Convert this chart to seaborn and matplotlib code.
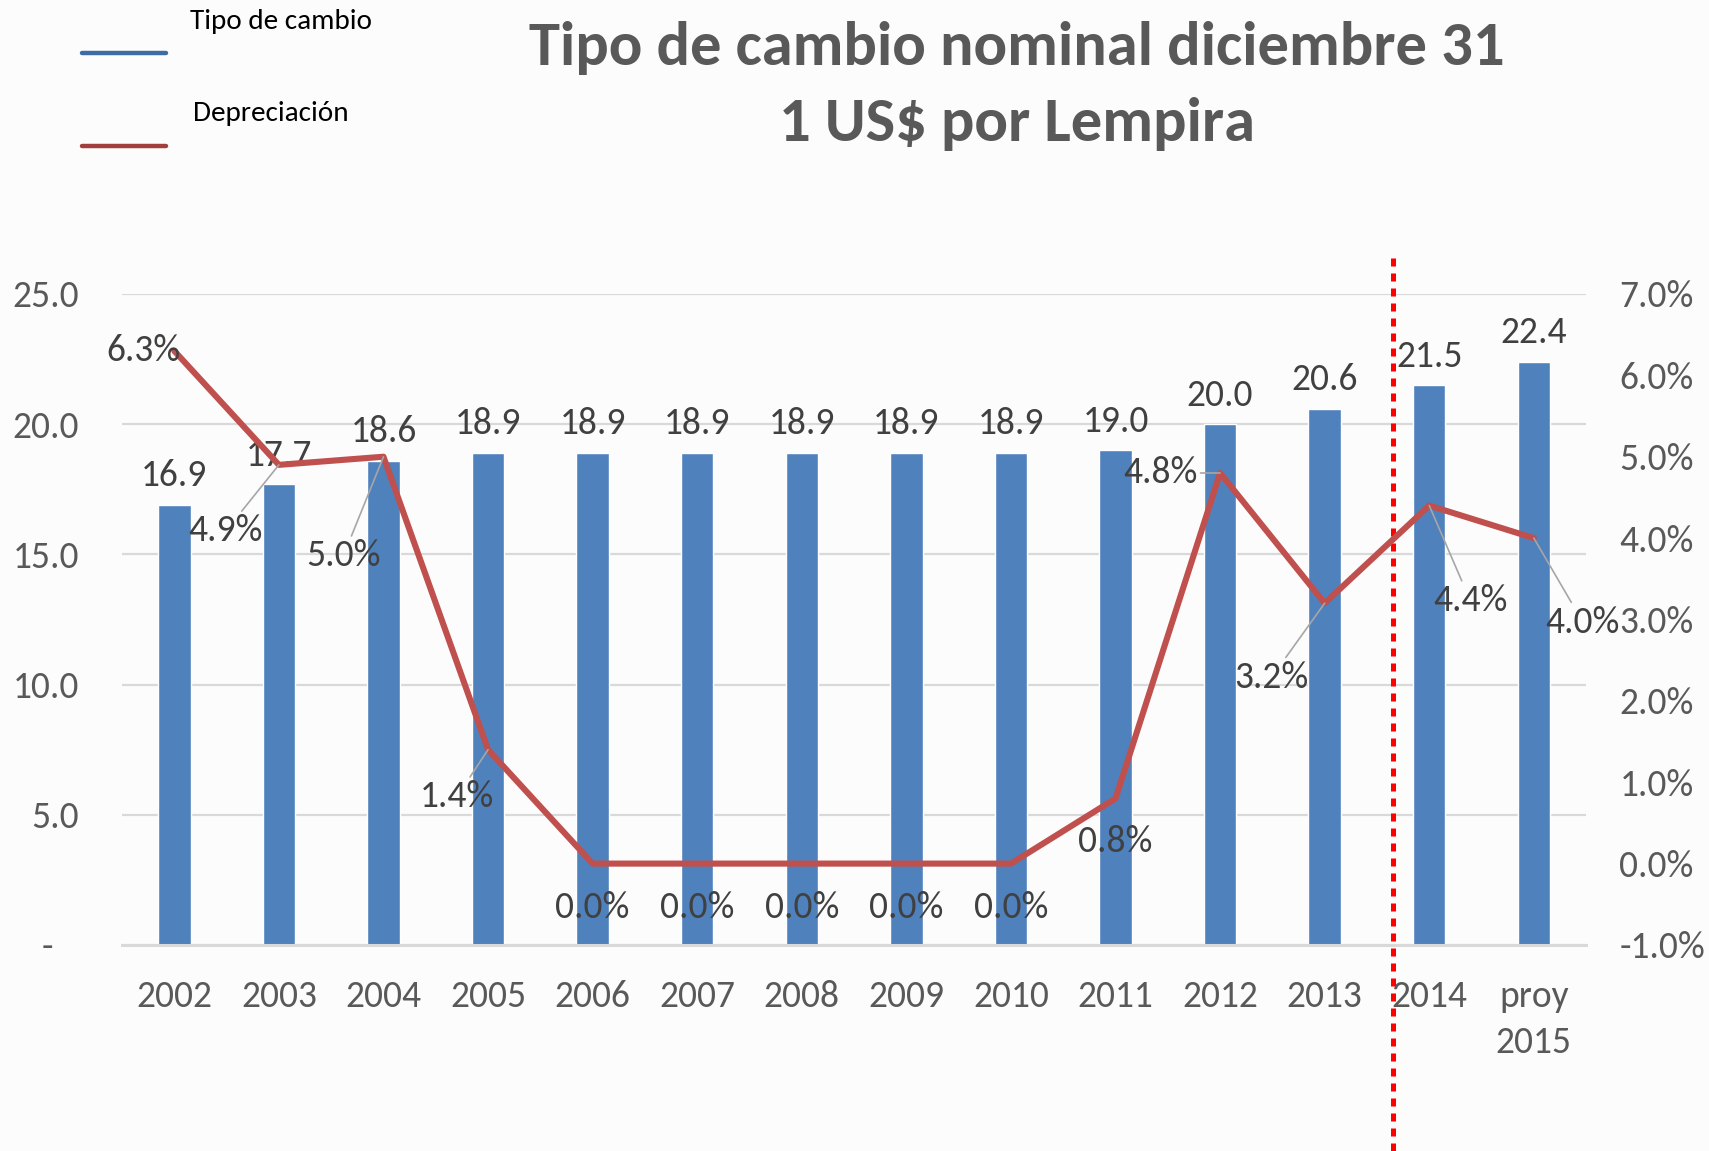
import numpy as np
import pandas as pd
import matplotlib
matplotlib.use("Agg")
import matplotlib.pyplot as plt
from matplotlib import font_manager
from matplotlib.lines import Line2D
import seaborn as sns

# ---- data ----
years = ["2002", "2003", "2004", "2005", "2006", "2007", "2008", "2009",
         "2010", "2011", "2012", "2013", "2014", "proy\n2015"]
tipo_cambio = [16.9, 17.7, 18.6, 18.9, 18.9, 18.9, 18.9, 18.9, 18.9, 19.0, 20.0, 20.6, 21.5, 22.4]
depreciacion = [6.3, 4.9, 5.0, 1.4, 0.0, 0.0, 0.0, 0.0, 0.0, 0.8, 4.8, 3.2, 4.4, 4.0]
left_ticks = [0, 5, 10, 15, 20, 25]
left_ticklabels = ["-   ", "5.0", "10.0", "15.0", "20.0", "25.0"]
right_ticks = [-1, 0, 1, 2, 3, 4, 5, 6, 7]
title_text = "Tipo de cambio nominal diciembre 31\n1 US$ por Lempira"
legend_names = ["Tipo de cambio", "Depreciación"]

# label offsets (pixels) for the depreciation labels, and whether a leader line is drawn
dep_offsets = [(-31, 0), (-53, -66), (-40, -99), (-31, -47), (0, -44), (0, -44), (0, -44),
               (0, -44), (0, -44), (0, -43), (-60, 0), (-53, -74), (41, -95), (49, -84)]
dep_leader = [False, True, True, True, False, False, False, False, False, False, True, True, True, True]

# ---- fonts ----
installed = {f.name for f in font_manager.fontManager.ttflist}
fam = None
for cand in ["Carlito", "Liberation Sans Narrow", "Lato", "DejaVu Sans"]:
    if cand in installed:
        fam = cand
        break
narrow = fam in ("Carlito", "Liberation Sans Narrow")
base = 27 if narrow else 23
title_size = 45 if narrow else 38.5
leg_size = 21 if narrow else 19

sns.set_theme(style="white")
plt.rcParams["font.family"] = [fam, "DejaVu Sans"]

BG = "#FCFCFC"
TXT = "#595959"
LBL = "#404040"

fig = plt.figure(figsize=(17.09, 11.51), dpi=100, facecolor=BG)
ax = fig.add_axes([0.0714, 0.179, 0.8567, 0.5656], facecolor=BG)

df = pd.DataFrame({"year": years, "tc": tipo_cambio, "pos": np.arange(len(years)), "dep": depreciacion})

sns.barplot(data=df, x="year", y="tc", color="#4F81BD", saturation=1, width=0.31, ax=ax, zorder=2)
ax.set_ylim(0, 25)
ax.set_xlim(-0.5, len(years) - 0.5)
ax.set_yticks(left_ticks)
ax.set_yticklabels(left_ticklabels)
ax.set_xlabel("")
ax.set_ylabel("")
ax.grid(axis="y", color="#D9D9D9", lw=1.6, zorder=0)
ax.grid(axis="x", visible=False)
for s in ["top", "left", "right"]:
    ax.spines[s].set_visible(False)
ax.spines["bottom"].set_color("#D9D9D9")
ax.spines["bottom"].set_linewidth(2.2)
ax.tick_params(axis="y", length=0, pad=31, labelsize=base, labelcolor=TXT)
ax.tick_params(axis="x", length=0, pad=25, labelsize=base, labelcolor=TXT)
for t in ax.get_xticklabels():
    t.set_linespacing(1.5)
    t.set_verticalalignment("top")

ax.bar_label(ax.containers[0], fmt="%.1f", padding=9, fontsize=base, color=LBL)

ax2 = ax.twinx()
sns.lineplot(data=df, x="pos", y="dep", color="#C0504D", lw=4.4, ax=ax2, zorder=3)
ax2.set_ylim(-1, 7)
ax2.set_yticks(right_ticks)
ax2.set_yticklabels([f"{v:.1f}%" for v in right_ticks])
ax2.set_ylabel("")
ax2.set_xlabel("")
ax2.grid(False)
for s in ["top", "left", "right", "bottom"]:
    ax2.spines[s].set_visible(False)
ax2.tick_params(axis="y", length=0, pad=24, labelsize=base, labelcolor=TXT)
ax2.set_xlim(-0.5, len(years) - 0.5)

for i, (v, off, lead) in enumerate(zip(depreciacion, dep_offsets, dep_leader)):
    ax2.annotate(f"{v:.1f}%", xy=(i, v), xytext=off, textcoords="offset pixels",
                 ha="center", va="center", fontsize=base, color=LBL,
                 arrowprops=dict(arrowstyle="-", color="#A6A6A6", lw=1.2,
                                 shrinkA=0, shrinkB=0) if lead else None,
                 zorder=4)

# dotted separator between actual and projected values
ax.axvline(11.65, ymin=-0.316, ymax=1.066, clip_on=False, color="#FF0000",
           lw=3.6, ls=(0, (1.6, 1.4)), zorder=5)

# title
fig.text(0.595, 0.925, title_text, ha="center", va="center", fontsize=title_size,
         fontweight="bold", color=TXT, linespacing=1.5)

# legend (text above line sample)
leg_cols = ["#3E6AA6", "#A23F3D"]
leg_line_y = [1 - 53 / 1151, 1 - 146 / 1151]
leg_text_y = [1 - 22 / 1151, 1 - 113 / 1151]
leg_text_x = [190 / 1709, 193 / 1709]
for name, c, ly, ty, tx in zip(legend_names, leg_cols, leg_line_y, leg_text_y, leg_text_x):
    fig.add_artist(Line2D([82 / 1709, 166 / 1709], [ly, ly], color=c, lw=3.2,
                          transform=fig.transFigure))
    fig.text(tx, ty, name, ha="left", va="center", fontsize=leg_size, color="black")

fig.savefig("out.png", dpi=100, facecolor=BG)
